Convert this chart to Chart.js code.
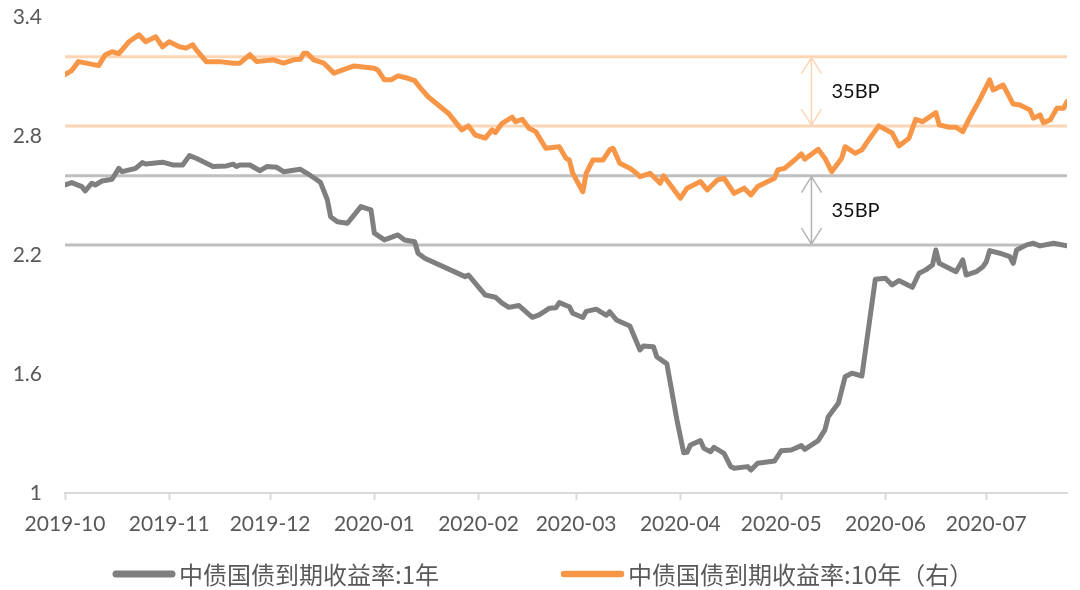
<!DOCTYPE html>
<html>
<head>
<meta charset="utf-8">
<script src="https://cdn.jsdelivr.net/npm/chart.js@4.4.0/dist/chart.umd.min.js"></script>
<style>
    html, body { margin: 0; padding: 0; background: #fff; }
</style>
</head>
<body>
<canvas id="myChart" width="1080" height="590"></canvas>
<script>
// Datos
const monthLabels = ['2019-10', '2019-11', '2019-12', '2020-01', '2020-02', '2020-03', '2020-04', '2020-05', '2020-06', '2020-07'];
const yTicks = [1, 1.6, 2.2, 2.8, 3.4];
const seriesNames = ['中债国债到期收益率:1年', '中债国债到期收益率:10年（右）'];
const startDate = '2019-10-01';
const endDate = '2020-07-25';

const dates1y = [
    '2019-10-01', '2019-10-03', '2019-10-06', '2019-10-07', '2019-10-09', '2019-10-10', '2019-10-12', '2019-10-15',
    '2019-10-17', '2019-10-18', '2019-10-22', '2019-10-24', '2019-10-25', '2019-10-30', '2019-11-02', '2019-11-05',
    '2019-11-07', '2019-11-09', '2019-11-11', '2019-11-14', '2019-11-18', '2019-11-20', '2019-11-21', '2019-11-22',
    '2019-11-25', '2019-11-28', '2019-11-30', '2019-12-03', '2019-12-05', '2019-12-10', '2019-12-12', '2019-12-15',
    '2019-12-16', '2019-12-18', '2019-12-19', '2019-12-21', '2019-12-24', '2019-12-28', '2019-12-31', '2020-01-01',
    '2020-01-04', '2020-01-08', '2020-01-10', '2020-01-13', '2020-01-14', '2020-01-16', '2020-01-28', '2020-01-29',
    '2020-01-31', '2020-02-03', '2020-02-06', '2020-02-08', '2020-02-10', '2020-02-13', '2020-02-17', '2020-02-19',
    '2020-02-22', '2020-02-24', '2020-02-25', '2020-02-28', '2020-02-29', '2020-03-03', '2020-03-04', '2020-03-07',
    '2020-03-10', '2020-03-11', '2020-03-13', '2020-03-17', '2020-03-20', '2020-03-21', '2020-03-24', '2020-03-25',
    '2020-03-28', '2020-03-31', '2020-04-02', '2020-04-03', '2020-04-04', '2020-04-07', '2020-04-08', '2020-04-10',
    '2020-04-11', '2020-04-14', '2020-04-16', '2020-04-17', '2020-04-21', '2020-04-22', '2020-04-24', '2020-04-29',
    '2020-05-01', '2020-05-04', '2020-05-07', '2020-05-08', '2020-05-12', '2020-05-14', '2020-05-15', '2020-05-18',
    '2020-05-20', '2020-05-22', '2020-05-25', '2020-05-29', '2020-06-01', '2020-06-03', '2020-06-05', '2020-06-09',
    '2020-06-11', '2020-06-13', '2020-06-15', '2020-06-16', '2020-06-17', '2020-06-22', '2020-06-24', '2020-06-25',
    '2020-06-28', '2020-06-30', '2020-07-01', '2020-07-02', '2020-07-05', '2020-07-08', '2020-07-09', '2020-07-10',
    '2020-07-13', '2020-07-15', '2020-07-17', '2020-07-21', '2020-07-25'
];
const rate1y = [
    2.553, 2.565, 2.545, 2.523, 2.562, 2.553, 2.573, 2.582,
    2.637, 2.620, 2.637, 2.666, 2.659, 2.668, 2.654, 2.654,
    2.701, 2.688, 2.671, 2.646, 2.649, 2.658, 2.646, 2.654,
    2.654, 2.625, 2.646, 2.642, 2.620, 2.632, 2.612, 2.578,
    2.565, 2.480, 2.393, 2.368, 2.360, 2.444, 2.427, 2.310,
    2.276, 2.301, 2.276, 2.267, 2.209, 2.184, 2.091, 2.099,
    2.058, 1.998, 1.987, 1.957, 1.936, 1.945, 1.886, 1.898,
    1.931, 1.934, 1.960, 1.939, 1.906, 1.885, 1.916, 1.927,
    1.896, 1.914, 1.872, 1.842, 1.721, 1.741, 1.738, 1.687,
    1.651, 1.368, 1.203, 1.205, 1.242, 1.264, 1.225, 1.208,
    1.230, 1.200, 1.133, 1.125, 1.133, 1.116, 1.150, 1.161,
    1.213, 1.217, 1.239, 1.220, 1.264, 1.318, 1.385, 1.452,
    1.586, 1.604, 1.590, 2.078, 2.083, 2.049, 2.071, 2.037,
    2.108, 2.125, 2.150, 2.225, 2.158, 2.116, 2.175, 2.099,
    2.116, 2.141, 2.166, 2.222, 2.209, 2.192, 2.158, 2.225,
    2.251, 2.259, 2.246, 2.259, 2.247
];

const dates10y = [
    '2019-10-01', '2019-10-03', '2019-10-05', '2019-10-08', '2019-10-11', '2019-10-13', '2019-10-15', '2019-10-17',
    '2019-10-20', '2019-10-23', '2019-10-25', '2019-10-28', '2019-10-30', '2019-11-01', '2019-11-04', '2019-11-06',
    '2019-11-08', '2019-11-09', '2019-11-12', '2019-11-16', '2019-11-20', '2019-11-22', '2019-11-25', '2019-11-27',
    '2019-12-02', '2019-12-05', '2019-12-08', '2019-12-10', '2019-12-11', '2019-12-12', '2019-12-14', '2019-12-17',
    '2019-12-20', '2019-12-22', '2019-12-26', '2020-01-01', '2020-01-02', '2020-01-04', '2020-01-06', '2020-01-08',
    '2020-01-11', '2020-01-13', '2020-01-15', '2020-01-17', '2020-01-23', '2020-01-27', '2020-01-29', '2020-01-31',
    '2020-02-03', '2020-02-05', '2020-02-06', '2020-02-08', '2020-02-11', '2020-02-12', '2020-02-14', '2020-02-16',
    '2020-02-18', '2020-02-21', '2020-02-25', '2020-02-27', '2020-02-28', '2020-02-29', '2020-03-03', '2020-03-04',
    '2020-03-06', '2020-03-09', '2020-03-11', '2020-03-12', '2020-03-14', '2020-03-17', '2020-03-19', '2020-03-20',
    '2020-03-23', '2020-03-26', '2020-03-27', '2020-04-01', '2020-04-03', '2020-04-07', '2020-04-09', '2020-04-12',
    '2020-04-14', '2020-04-17', '2020-04-20', '2020-04-22', '2020-04-24', '2020-04-29', '2020-04-30', '2020-05-02',
    '2020-05-05', '2020-05-07', '2020-05-08', '2020-05-12', '2020-05-14', '2020-05-16', '2020-05-19', '2020-05-20',
    '2020-05-23', '2020-05-25', '2020-05-27', '2020-05-30', '2020-06-03', '2020-06-05', '2020-06-08', '2020-06-10',
    '2020-06-12', '2020-06-16', '2020-06-17', '2020-06-20', '2020-06-22', '2020-06-24', '2020-06-26', '2020-06-29',
    '2020-07-02', '2020-07-03', '2020-07-06', '2020-07-09', '2020-07-11', '2020-07-14', '2020-07-15', '2020-07-17',
    '2020-07-18', '2020-07-20', '2020-07-22', '2020-07-24', '2020-07-25'
];
const rate10y = [
    3.110, 3.130, 3.175, 3.165, 3.155, 3.210, 3.225, 3.215,
    3.275, 3.310, 3.275, 3.300, 3.250, 3.275, 3.250, 3.243,
    3.260, 3.235, 3.175, 3.175, 3.167, 3.167, 3.210, 3.175,
    3.184, 3.167, 3.184, 3.187, 3.217, 3.217, 3.184, 3.167,
    3.117, 3.130, 3.153, 3.142, 3.133, 3.083, 3.083, 3.103,
    3.091, 3.079, 3.036, 2.998, 2.915, 2.831, 2.851, 2.805,
    2.789, 2.831, 2.817, 2.864, 2.895, 2.872, 2.884, 2.839,
    2.822, 2.738, 2.746, 2.688, 2.679, 2.612, 2.519, 2.612,
    2.679, 2.679, 2.730, 2.738, 2.663, 2.637, 2.612, 2.595,
    2.612, 2.562, 2.599, 2.486, 2.537, 2.570, 2.528, 2.578,
    2.587, 2.511, 2.537, 2.503, 2.545, 2.587, 2.629, 2.637,
    2.679, 2.710, 2.683, 2.733, 2.688, 2.620, 2.688, 2.746,
    2.713, 2.730, 2.780, 2.851, 2.815, 2.750, 2.789, 2.884,
    2.872, 2.918, 2.856, 2.844, 2.844, 2.822, 2.890, 2.982,
    3.083, 3.032, 3.057, 2.961, 2.956, 2.931, 2.890, 2.906,
    2.867, 2.881, 2.940, 2.940, 2.973
];

// Líneas de referencia y diferencial
const levels10y = [3.2, 2.85];
const levels1y = [2.6, 2.25];
const spreadLabel = '35BP';
const spreadDate = '2020-05-10';

const colors = ['#7f7f7f', '#f79646'];
const refColors = ['#bfbfbf', '#fcd5b5'];
const arrowColors = ['#b3b3b3', '#fcd5b5'];
const textColor = '#595959';

// Días desde el inicio del eje
const dayOf = s => {
    const [y, m, d] = s.split('-').map(Number);
    const [y0, m0, d0] = startDate.split('-').map(Number);
    return (Date.UTC(y, m - 1, d) - Date.UTC(y0, m0 - 1, d0)) / 86400000;
};

const toPoints = (dates, values) => dates.map((d, i) => ({ x: dayOf(d), y: values[i] }));

const refLinesPlugin = {
    id: 'refLines',
    beforeDatasetsDraw(chart) {
        const { ctx, chartArea } = chart;
        const groups = [
            { scale: chart.scales.y, levels: levels1y, color: refColors[0] },
            { scale: chart.scales.y2, levels: levels10y, color: refColors[1] }
        ];
        ctx.save();
        ctx.lineWidth = 3;
        groups.forEach(g => {
            ctx.strokeStyle = g.color;
            g.levels.forEach(v => {
                const y = g.scale.getPixelForValue(v);
                ctx.beginPath();
                ctx.moveTo(chartArea.left, y);
                ctx.lineTo(chartArea.right, y);
                ctx.stroke();
            });
        });
        ctx.restore();
    }
};

const drawArrow = (ctx, x, y1, y2, color) => {
    const head = 16;
    const half = 10;
    ctx.strokeStyle = color;
    ctx.lineWidth = 1.5;
    ctx.beginPath();
    ctx.moveTo(x, y1);
    ctx.lineTo(x, y2);
    ctx.moveTo(x - half, y1 + head);
    ctx.lineTo(x, y1);
    ctx.lineTo(x + half, y1 + head);
    ctx.moveTo(x - half, y2 - head);
    ctx.lineTo(x, y2);
    ctx.lineTo(x + half, y2 - head);
    ctx.stroke();
};

const spreadPlugin = {
    id: 'spread',
    afterDatasetsDraw(chart) {
        const { ctx } = chart;
        const x = chart.scales.x.getPixelForValue(dayOf(spreadDate));
        const groups = [
            { scale: chart.scales.y2, levels: levels10y, color: arrowColors[1] },
            { scale: chart.scales.y, levels: levels1y, color: arrowColors[0] }
        ];
        ctx.save();
        groups.forEach(g => {
            const yTop = g.scale.getPixelForValue(g.levels[0]) + 1;
            const yBottom = g.scale.getPixelForValue(g.levels[1]) - 1;
            drawArrow(ctx, x, yTop, yBottom, g.color);
            ctx.fillStyle = '#111';
            ctx.font = '20px Lato';
            ctx.textAlign = 'left';
            ctx.textBaseline = 'middle';
            ctx.fillText(spreadLabel, x + 20, (yTop + yBottom) / 2);
        });
        ctx.restore();
    }
};

const legendPlugin = {
    id: 'bottomLegend',
    afterDraw(chart) {
        const { ctx } = chart;
        const items = [
            { name: seriesNames[0], color: colors[0], x: 116, w: 56, lw: 7 },
            { name: seriesNames[1], color: colors[1], x: 564, w: 57, lw: 6.5 }
        ];
        const y = 574;
        ctx.save();
        ctx.lineCap = 'round';
        items.forEach(it => {
            ctx.strokeStyle = it.color;
            ctx.lineWidth = it.lw;
            ctx.beginPath();
            ctx.moveTo(it.x, y);
            ctx.lineTo(it.x + it.w, y);
            ctx.stroke();
            ctx.fillStyle = textColor;
            ctx.font = '24px "Noto Sans CJK SC"';
            ctx.textAlign = 'left';
            ctx.textBaseline = 'middle';
            ctx.fillText(it.name, it.x + it.w + 7, y + 1);
        });
        ctx.restore();
    }
};

const canvas = document.getElementById('myChart');
const ctx = canvas.getContext('2d');

new Chart(ctx, {
    type: 'line',
    data: {
        datasets: [
            {
                label: seriesNames[0],
                data: toPoints(dates1y, rate1y),
                borderColor: colors[0],
                borderWidth: 5,
                pointRadius: 0,
                tension: 0,
                borderJoinStyle: 'round',
                borderCapStyle: 'round',
                yAxisID: 'y'
            },
            {
                label: seriesNames[1],
                data: toPoints(dates10y, rate10y),
                borderColor: colors[1],
                borderWidth: 5,
                pointRadius: 0,
                tension: 0,
                borderJoinStyle: 'round',
                borderCapStyle: 'round',
                yAxisID: 'y2'
            }
        ]
    },
    options: {
        responsive: false,
        animation: false,
        layout: { padding: { top: 17, right: 13, left: 0, bottom: 0 } },
        plugins: {
            legend: { display: false },
            tooltip: { enabled: false }
        },
        scales: {
            x: {
                type: 'linear',
                min: 0,
                max: dayOf(endDate),
                afterBuildTicks: scale => {
                    scale.ticks = monthLabels.map(m => ({ value: dayOf(m + '-01') }));
                },
                afterFit: scale => {
                    scale.height = 97;
                    scale.paddingLeft = 0;
                    scale.paddingRight = 0;
                },
                ticks: {
                    autoSkip: false,
                    maxRotation: 0,
                    padding: 12,
                    color: textColor,
                    font: { family: 'Lato', size: 21 },
                    callback: (value, index) => monthLabels[index]
                },
                grid: {
                    drawOnChartArea: false,
                    drawTicks: true,
                    tickLength: 7,
                    tickWidth: 2,
                    tickColor: '#d9d9d9'
                },
                border: { display: true, color: '#d9d9d9', width: 2 }
            },
            y: {
                min: yTicks[0],
                max: yTicks[yTicks.length - 1],
                afterBuildTicks: scale => {
                    scale.ticks = yTicks.map(v => ({ value: v }));
                },
                afterFit: scale => {
                    scale.width = 65;
                    scale.paddingTop = 0;
                    scale.paddingBottom = 0;
                },
                ticks: {
                    padding: 23,
                    color: textColor,
                    font: { family: 'Lato', size: 21 },
                    callback: value => String(value)
                },
                grid: { display: false, drawTicks: false },
                border: { display: false }
            },
            y2: {
                position: 'right',
                display: false,
                min: yTicks[0],
                max: yTicks[yTicks.length - 1]
            }
        }
    },
    plugins: [refLinesPlugin, spreadPlugin, legendPlugin]
});
</script>
</body>
</html>
